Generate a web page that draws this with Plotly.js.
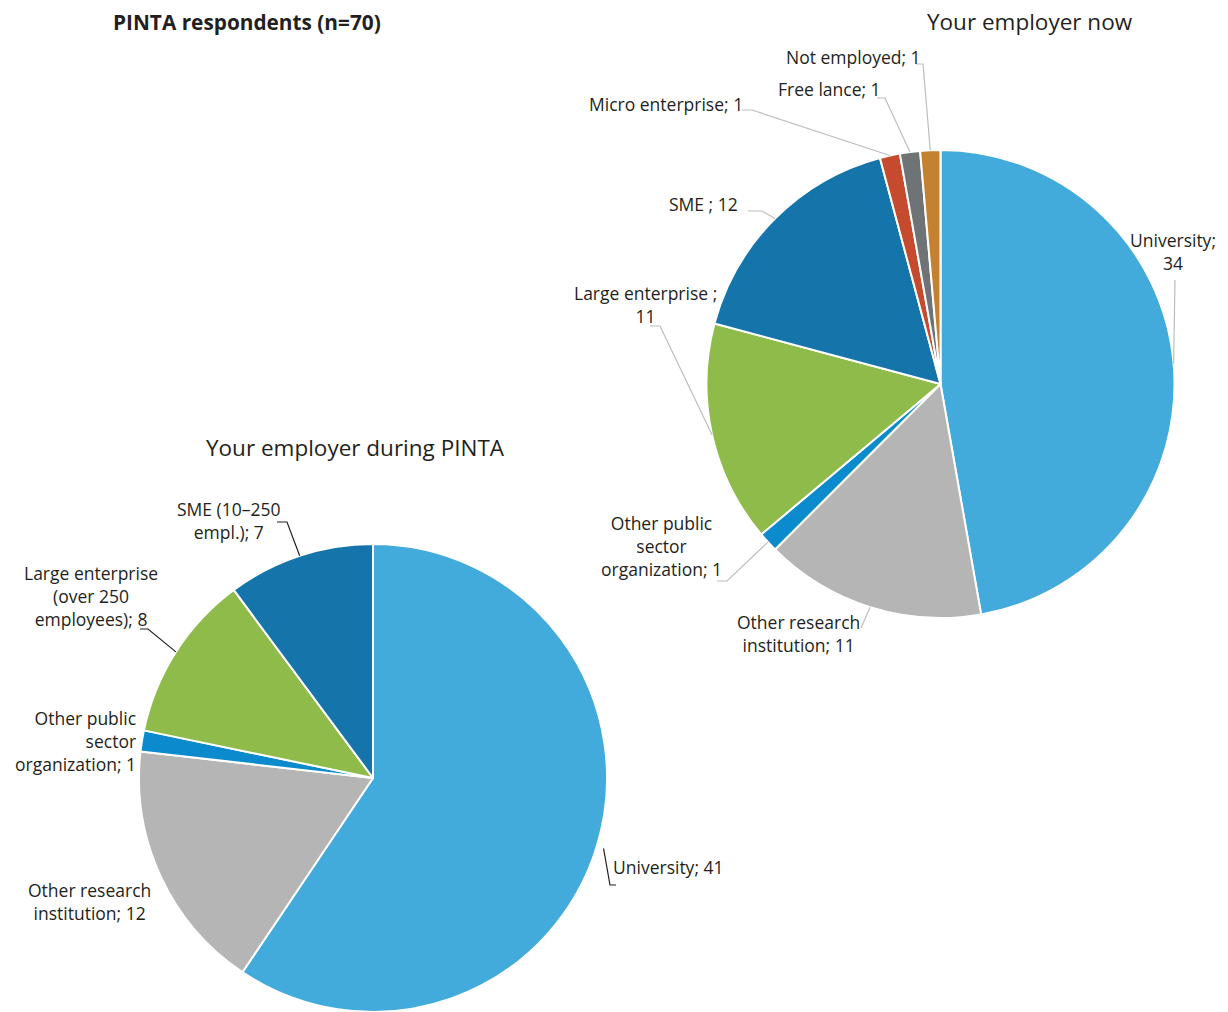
<!DOCTYPE html>
<html><head><meta charset="utf-8">
<script src="https://cdn.plot.ly/plotly-3.0.1.min.js"></script>
<style>html,body{margin:0;padding:0;background:#fff}#chart{width:1228px;height:1012px}</style>
</head><body><div id="chart"></div>
<script>
// ---- data ----
const duringLabels = ["University", "Other research institution", "Other public sector organization", "Large enterprise (over 250 employees)", "SME (10–250 empl.)"];
const duringValues = [41, 12, 1, 8, 7];
const duringColors = ["#42ABDB", "#B5B5B5", "#0B8BCD", "#8FBB4B", "#1574AA"];
const duringText = ["University; 41", "Other research<br>institution; 12", "Other public<br>sector<br>organization; 1", "Large enterprise<br>(over 250<br>employees); 8", "SME (10–250<br>empl.); 7"];

const nowLabels = ["University", "Other research institution", "Other public sector organization", "Large enterprise", "SME", "Micro enterprise", "Free lance", "Not employed"];
const nowValues = [34, 11, 1, 11, 12, 1, 1, 1];
const nowColors = ["#42ABDB", "#B5B5B5", "#0B8BCD", "#8FBB4B", "#1574AA", "#C64A2E", "#6F7375", "#C4812F"];
const nowText = ["University;<br>34", "Other research<br>institution; 11", "Other public<br>sector<br>organization; 1", "Large enterprise ;<br>11", "SME ; 12", "Micro enterprise; 1", "Free lance; 1", "Not employed; 1"];

// ---- geometry ----
const W = 1228, H = 1012;
const P = (x, y) => [x / W, 1 - y / H];
const pieL = {cx: 373, cy: 778, r: 234};
const pieR = {cx: 940.5, cy: 384, r: 234};
function dom(p) { return {x: [(p.cx - p.r) / W, (p.cx + p.r) / W], y: [1 - (p.cy + p.r) / H, 1 - (p.cy - p.r) / H]}; }

// point on pie edge at the middle of slice i
function edge(p, vals, i, dr) {
  const tot = vals.reduce((a, b) => a + b, 0);
  let c = 0; for (let k = 0; k < i; k++) c += vals[k];
  const a = (c + vals[i] / 2) / tot * 2 * Math.PI;
  const rr = p.r + (dr || 0);
  return [p.cx + rr * Math.sin(a), p.cy - rr * Math.cos(a)];
}

const font = {family: "'Open Sans', 'Noto Sans', sans-serif", size: 17.5, color: "#231F20"};

const traces = [
  {type: "pie", labels: duringLabels, values: duringValues, sort: false, direction: "clockwise", rotation: 0,
   marker: {colors: duringColors, line: {color: "#fff", width: 2}}, textinfo: "none", hoverinfo: "label+value",
   domain: dom(pieL), showlegend: false},
  {type: "pie", labels: nowLabels, values: nowValues, sort: false, direction: "clockwise", rotation: 0,
   marker: {colors: nowColors, line: {color: "#fff", width: 2}}, textinfo: "none", hoverinfo: "label+value",
   domain: dom(pieR), showlegend: false}
];

// label placements (pixel positions, anchors)
const duringPos = [
  {x: 611, y: 867, xa: "left", al: "left"},
  {x: 89, y: 901, xa: "center", al: "center"},
  {x: 138, y: 741, xa: "right", al: "right"},
  {x: 91, y: 596, xa: "center", al: "center"},
  {x: 229, y: 520, xa: "center", al: "center"}
];
const nowPos = [
  {x: 1173, y: 251, xa: "center", al: "center"},
  {x: 798, y: 633, xa: "center", al: "center"},
  {x: 661, y: 546, xa: "center", al: "center"},
  {x: 645, y: 305, xa: "center", al: "center"},
  {x: 740, y: 204, xa: "right", al: "right"},
  {x: 745, y: 104, xa: "right", al: "right"},
  {x: 883, y: 89, xa: "right", al: "right"},
  {x: 923, y: 57, xa: "right", al: "right"}
];

const annotations = [];
function addLabels(texts, pos) {
  texts.forEach((t, i) => {
    const [x, y] = P(pos[i].x, pos[i].y);
    annotations.push({xref: "paper", yref: "paper", x, y, text: t, showarrow: false, xanchor: pos[i].xa, yanchor: "middle", align: pos[i].al, font});
  });
}
addLabels(duringText, duringPos);
addLabels(nowText, nowPos);

const titles = [
  {x: 247, y: 22, text: "<b>PINTA respondents (n=70)</b>", size: 20.8},
  {x: 1030, y: 22, text: "Your employer now", size: 22.5},
  {x: 355, y: 447, text: "Your employer during PINTA", size: 22.5}
];
titles.forEach(t => {
  const [x, y] = P(t.x, t.y);
  annotations.push({xref: "paper", yref: "paper", x, y, text: t.text, showarrow: false, xanchor: "center", yanchor: "middle",
    font: {family: font.family, size: t.size, color: "#231F20"}});
});

// leader lines: label-side polyline points (pixels) + pie-edge end computed from data
const shapes = [];
function leader(pts, p, vals, i, color, dr) {
  const all = pts.concat([edge(p, vals, i, dr)]);
  const path = all.map((q, k) => { const [x, y] = P(q[0], q[1]); return (k ? "L" : "M") + x + "," + y; }).join(" ");
  shapes.push({type: "path", xref: "paper", yref: "paper", path, line: {color, width: 1.2}});
}
const blk = "#231F20", gry = "#BDBDBD";
leader([[616, 885], [610, 885]], pieL, duringValues, 0, blk, 7);
leader([[140, 629], [148, 629]], pieL, duringValues, 3, blk, 0);
leader([[277, 522], [287, 522]], pieL, duringValues, 4, blk, 0);

leader([[1175, 280]], pieR, nowValues, 0, gry, 0);
leader([[861, 628]], pieR, nowValues, 1, gry, 0);
leader([[717, 581], [727, 581]], pieR, nowValues, 2, gry, 0);
leader([[650, 326], [660, 326]], pieR, nowValues, 3, gry, 0);
leader([[748, 211], [762, 211]], pieR, nowValues, 4, gry, 0);
leader([[742, 110], [752, 110]], pieR, nowValues, 5, gry, 0);
leader([[877, 98], [885, 98]], pieR, nowValues, 6, gry, 0);
leader([[916, 64], [923, 64]], pieR, nowValues, 7, gry, 0);

Plotly.newPlot("chart", traces, {
  width: W, height: H, margin: {l: 0, r: 0, t: 0, b: 0},
  paper_bgcolor: "#fff", plot_bgcolor: "#fff", showlegend: false,
  annotations, shapes
}, {displayModeBar: false, staticPlot: true});
</script></body></html>
